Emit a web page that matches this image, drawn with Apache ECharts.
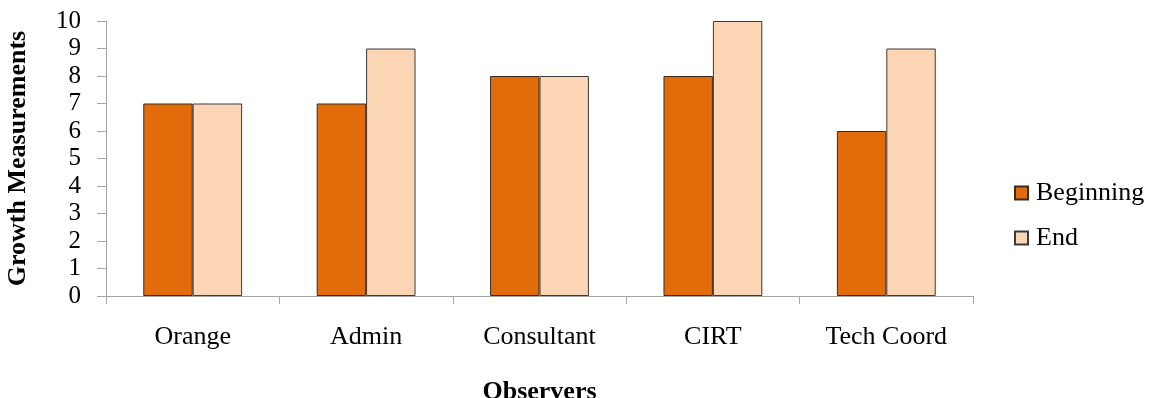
<!DOCTYPE html>
<html>
<head>
<meta charset="utf-8">
<script src="https://cdn.jsdelivr.net/npm/echarts@6/dist/echarts.min.js"></script>
<style>
  html, body { margin: 0; padding: 0; background: #fff; overflow: hidden; }
  #chart { width: 1153px; height: 398px; }
</style>
</head>
<body>
<div id="chart"></div>
<script>
// Growth measurements per observer, at the beginning and the end
const categories = ['Orange', 'Admin', 'Consultant', 'CIRT', 'Tech Coord'];
const beginning = [7, 7, 8, 8, 6];
const end = [7, 9, 8, 10, 9];
const yTicks = { min: 0, max: 10, interval: 1 };

const serif = '"Liberation Serif", "Times New Roman", serif';
const axisGrey = '#a6a6a6';

const chart = echarts.init(document.getElementById('chart'), null, { renderer: 'canvas' });
chart.setOption({
  animation: false,
  backgroundColor: '#ffffff',
  textStyle: { fontFamily: serif },
  grid: {
    left: 106, right: 180, top: 21, bottom: 102,
    containLabel: false,
    outerBoundsMode: 'none'
  },
  legend: {
    orient: 'vertical',
    left: 1014,
    top: 180,
    padding: 0,
    itemWidth: 13,
    itemHeight: 13,
    itemGap: 19,
    icon: 'rect',
    textStyle: { fontFamily: serif, fontSize: 26, color: '#000', padding: [0, 0, 0, 3] },
    data: ['Beginning', 'End']
  },
  xAxis: {
    type: 'category',
    data: categories,
    name: 'Observers',
    nameLocation: 'middle',
    nameGap: 83,
    nameTextStyle: { fontFamily: serif, fontSize: 26, fontWeight: 'bold', color: '#000' },
    axisLine: { lineStyle: { color: axisGrey, width: 1 } },
    axisTick: { show: true, length: 8, lineStyle: { color: axisGrey } },
    axisLabel: { fontFamily: serif, fontSize: 26, color: '#000', margin: 28 }
  },
  yAxis: {
    type: 'value',
    min: yTicks.min,
    max: yTicks.max,
    interval: yTicks.interval,
    name: 'Growth Measurements',
    nameLocation: 'middle',
    nameGap: 75,
    nameRotate: 90,
    nameTextStyle: { fontFamily: serif, fontSize: 26, fontWeight: 'bold', color: '#000' },
    axisLine: { show: true, lineStyle: { color: axisGrey, width: 1 } },
    axisTick: { show: true, length: 9, lineStyle: { color: axisGrey } },
    axisLabel: { fontFamily: serif, fontSize: 25, color: '#000', margin: 25 },
    splitLine: { show: false }
  },
  series: [
    {
      name: 'Beginning',
      type: 'bar',
      data: beginning,
      barGap: '0%',
      barCategoryGap: '43%',
      itemStyle: { color: '#e36c0a', borderColor: '#3a2a1e', borderWidth: 1 }
    },
    {
      name: 'End',
      type: 'bar',
      data: end,
      itemStyle: { color: '#fcd5b4', borderColor: '#3a3a3a', borderWidth: 1 }
    }
  ]
});
</script>
</body>
</html>
